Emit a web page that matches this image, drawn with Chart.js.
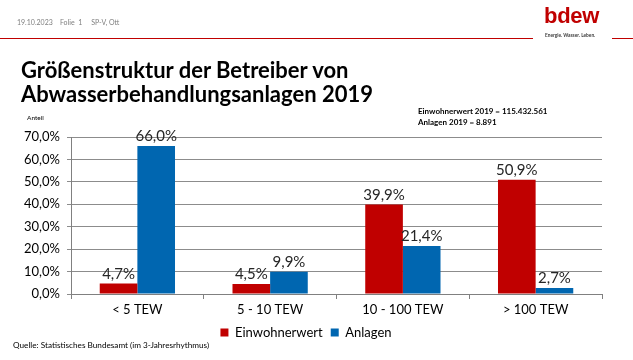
<!DOCTYPE html>
<html><head><meta charset="utf-8">
<script src="https://cdn.jsdelivr.net/npm/chart.js@4"></script>
<style>
html,body{margin:0;padding:0;background:#fff;}
#wrap{position:relative;width:633px;height:360px;overflow:hidden;font-family:Lato,"Open Sans",sans-serif;}
canvas{position:absolute;left:0;top:0;}
.abs{position:absolute;white-space:nowrap;}
</style></head>
<body>
<div id="wrap">
<canvas id="c" width="633" height="360"></canvas>
<div class="abs" style="left:17px;top:18px;font-size:7px;color:#7f7f7f;">19.10.2023&nbsp;&nbsp;&nbsp;&nbsp;Folie&nbsp; 1&nbsp;&nbsp;&nbsp;&nbsp;&nbsp;SP-V, Ott</div>
<div class="abs" style="left:0;top:38px;width:533px;height:1px;background:#c00000;"></div>
<div class="abs" style="left:612px;top:38px;width:21px;height:1px;background:#c00000;"></div>
<div class="abs" style="left:544px;top:3px;font-size:22px;font-weight:bold;color:#c00000;font-family:'Liberation Sans',sans-serif;letter-spacing:-0.3px;">bdew</div>
<div class="abs" style="left:545px;top:32px;font-size:4.8px;font-weight:bold;color:#404040;">Energie. Wasser. Leben.</div>
<div class="abs" style="left:21px;top:58px;font-size:22px;font-weight:bold;color:#000;line-height:24px;">Größenstruktur der Betreiber von<br>Abwasserbehandlungsanlagen 2019</div>
<div class="abs" style="left:418px;top:106px;font-size:8px;font-weight:bold;color:#000;line-height:11px;">Einwohnerwert 2019 = 115.432.561<br>Anlagen 2019 = 8.891</div>
<div class="abs" style="left:27px;top:114px;font-size:6.5px;color:#000;">Anteil</div>
<div class="abs" style="left:13px;top:340px;font-size:8.2px;color:#000;">Quelle: Statistisches Bundesamt (im 3-Jahresrhythmus)</div>
</div>
<script>
const categories = ["< 5 TEW", "5 - 10 TEW", "10 - 100 TEW", "> 100 TEW"];
const einwohnerwert = [4.7, 4.5, 39.9, 50.9];
const anlagen = [66.0, 9.9, 21.4, 2.7];
const seriesNames = ["Einwohnerwert", "Anlagen"];
const yTicks = [0, 10, 20, 30, 40, 50, 60, 70];

const fmt = v => v.toFixed(1).replace('.', ',') + '%';

const labelPlugin = {
  id: 'barLabels',
  afterDatasetsDraw(chart) {
    const ctx = chart.ctx;
    ctx.save();
    ctx.font = '15px Lato, "Open Sans", sans-serif';
    ctx.fillStyle = '#262626';
    ctx.textAlign = 'center';
    ctx.textBaseline = 'bottom';
    chart.data.datasets.forEach((ds, di) => {
      const meta = chart.getDatasetMeta(di);
      meta.data.forEach((bar, i) => {
        ctx.fillText(fmt(ds.data[i]), bar.x, bar.y - 2);
      });
    });
    ctx.restore();
  }
};

new Chart(document.getElementById('c'), {
  type: 'bar',
  data: {
    labels: categories,
    datasets: [
      { label: seriesNames[0], data: einwohnerwert, backgroundColor: '#c00000' },
      { label: seriesNames[1], data: anlagen, backgroundColor: '#0066b0' }
    ]
  },
  options: {
    responsive: false,
    animation: false,
    events: [],
    categoryPercentage: 0.567,
    barPercentage: 1,
    layout: { padding: { left: 10, right: 31, top: 137, bottom: 11 } },
    plugins: {
      legend: {
        position: 'bottom',
        labels: {
          boxWidth: 8, boxHeight: 8, padding: 8,
          color: '#000',
          font: { family: 'Lato, "Open Sans", sans-serif', size: 13 }
        }
      },
      tooltip: { enabled: false }
    },
    scales: {
      x: {
        grid: { drawOnChartArea: false, drawTicks: true, tickLength: 5, color: '#808080', offset: true },
        border: { color: '#808080', width: 1 },
        ticks: { color: '#000', padding: 3, font: { family: 'Lato, "Open Sans", sans-serif', size: 13 } },
        afterFit(s) { s.height = 24; }
      },
      y: {
        min: 0, max: 70,
        afterBuildTicks(s) { s.ticks = yTicks.map(v => ({ value: v })); },
        grid: { color: '#8c8c8c', tickLength: 4, drawTicks: true },
        border: { color: '#808080', width: 1 },
        ticks: { color: '#000', padding: 7, callback: v => fmt(v), font: { family: 'Lato, "Open Sans", sans-serif', size: 13 } },
        afterFit(s) { s.width = 61; }
      }
    }
  },
  plugins: [labelPlugin]
});
</script>
</body></html>
